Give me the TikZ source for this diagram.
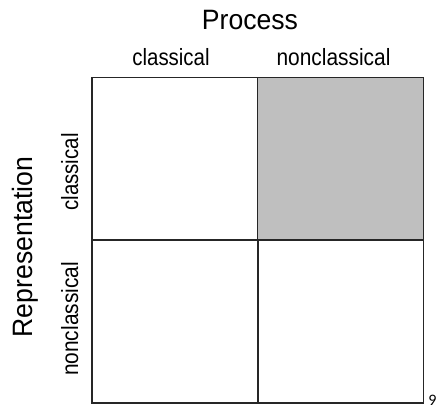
\documentclass[tikz,border=0pt]{standalone}
\usepackage{fontspec}
\setmainfont{Liberation Sans}
\newfontfamily\notefont{Carlito}
\begin{document}
\begin{tikzpicture}[x=1pt,y=-1pt,
  cell/.style={draw=black!85,line width=1.7pt,inner sep=0pt,minimum width=166pt,minimum height=163pt},
  shaded/.style={cell,fill=black!25},
  bigtitle/.style={inner sep=0pt,font=\fontsize{28}{30}\selectfont},
  catlabel/.style={inner sep=0pt,font=\fontsize{23.5}{26}\selectfont}]
\useasboundingbox (0,0) rectangle (440,408);
% the four cells of the 2x2 matrix
\node[cell]   (cc) at (175,159) {};
\node[shaded] (cn) at (340.5,159) {};
\node[cell]   (nc) at (175,321.5) {};
\node[cell]   (nn) at (340.5,321.5) {};
% column headings
\node[bigtitle,anchor=base] (proc) at (250,29) {\scalebox{0.95}[1]{Process}};
\node[catlabel,anchor=base] (pcl) at (171,65) {\scalebox{0.87}[1]{classical}};
\node[catlabel,anchor=base] (pnc) at (333.5,65) {\scalebox{0.89}[1]{nonclassical}};
% row headings
\node[bigtitle,anchor=base,rotate=90] (repr) at (32,247) {\scalebox{0.95}[1]{Representation}};
\node[catlabel,anchor=base,rotate=90] (rcl) at (78,172) {\scalebox{0.87}[1]{classical}};
\node[catlabel,anchor=base,rotate=90] (rnc) at (78,319) {\scalebox{0.89}[1]{nonclassical}};
% page number
\node[inner sep=0pt,anchor=base,font=\notefont\fontsize{16}{17}\selectfont] (pg) at (432.5,405) {9};
\end{tikzpicture}
\end{document}
